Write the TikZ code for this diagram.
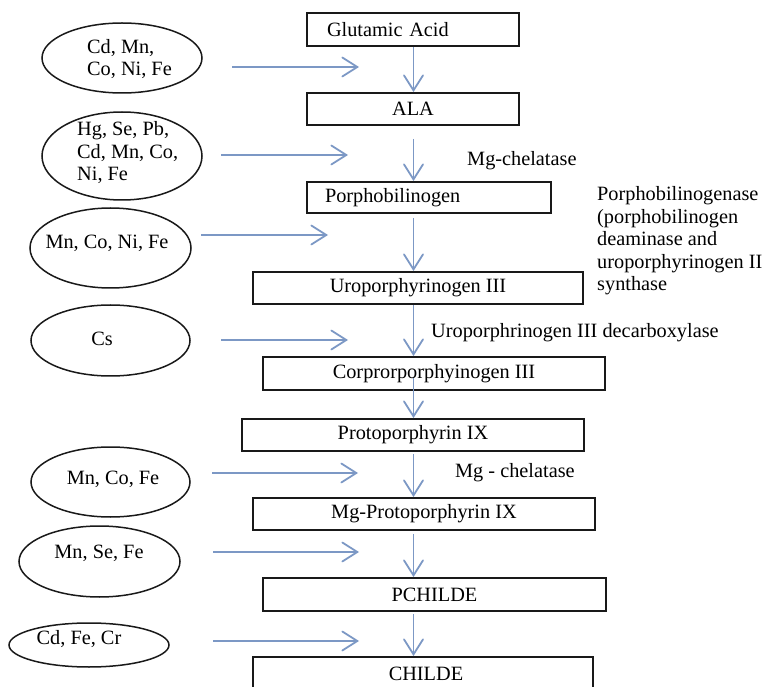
\documentclass[tikz,border=0pt]{standalone}
\usepackage{fontspec}
\setmainfont{Liberation Serif}
\usetikzlibrary{arrows.meta,shapes.geometric}
\definecolor{flowblue}{RGB}{124,152,197}
\begin{document}
\begin{tikzpicture}[x=1pt,y=-1pt,
  every node/.style={font=\fontsize{20.3}{22.5}\selectfont},
  stage/.style={draw=black!90,line width=1.9pt,rectangle,inner sep=0pt},
  metal/.style={draw=black!90,line width=1.5pt,ellipse,inner sep=0pt},
  plain/.style={inner sep=0pt},
  flow/.style={draw=flowblue,line width=1.8pt,-{Straight Barb[length=15pt,width=19pt,line cap=round]}}
]
\useasboundingbox (0,0) rectangle (764,687);
\clip (0,0) rectangle (764,687);

% pathway stages
\node[stage,minimum width=212pt,minimum height=33pt,text width=172pt,inner xsep=20pt,align=left] (glu) at (413,29.5) {Glutamic Acid};
\node[stage,minimum width=212pt,minimum height=32pt] (ala) at (413,109) {ALA};
\node[stage,minimum width=244pt,minimum height=31pt,text width=208pt,inner xsep=18pt,align=left] (por) at (429,197.5) {Porphobilinogen};
\node[stage,minimum width=330pt,minimum height=32pt] (uro) at (418,288) {Uroporphyrinogen III};
\node[stage,minimum width=342pt,minimum height=33pt] (cor) at (434,373.5) {Corprorporphyinogen III};
\node[stage,minimum width=342pt,minimum height=32pt] (pro) at (413,435) {Protoporphyrin IX};
\node[stage,minimum width=342pt,minimum height=32pt] (mgp) at (424,514) {Mg-Protoporphyrin IX};
\node[stage,minimum width=343pt,minimum height=33pt] (pch) at (434.5,594.5) {PCHILDE};
\node[stage,minimum width=340pt,minimum height=34pt] (chi) at (423,674) {\hspace*{6pt}CHILDE};

% metal ellipses
\node[metal,minimum width=160pt,minimum height=70pt] (e1) at (122,58) {};
\node[metal,minimum width=160pt,minimum height=88pt] (e2) at (122,156) {};
\node[metal,minimum width=161pt,minimum height=80pt] (e3) at (110.5,248) {};
\node[metal,minimum width=159pt,minimum height=71pt] (e4) at (110.5,340.5) {};
\node[metal,minimum width=159pt,minimum height=70pt] (e5) at (110.5,482) {};
\node[metal,minimum width=161pt,minimum height=71pt] (e6) at (99.5,561.5) {};
\node[metal,minimum width=160pt,minimum height=44pt] (e7) at (89,645) {};

\node[plain,align=left,anchor=west] (t1) at (87,59) {Cd, Mn,\\Co, Ni, Fe};
\node[plain,align=left,anchor=west] (t2) at (77,153) {Hg, Se, Pb,\\Cd, Mn, Co,\\Ni, Fe};
\node[plain] (t3) at (107,243) {Mn, Co, Ni, Fe};
\node[plain] (t4) at (102,339) {Cs};
\node[plain] (t5) at (113,479) {Mn, Co, Fe};
\node[plain] (t6) at (99,553) {Mn, Se, Fe};
\node[plain] (t7) at (79,639) {Cd, Fe, Cr};

% enzyme labels
\node[plain,anchor=west] (l1) at (467,161) {Mg-chelatase};
\node[plain,anchor=west,align=left] (l2) at (597,241) {Porphobilinogenase\\(porphobilinogen\\deaminase and\\uroporphyrinogen II\\synthase};
\node[plain,anchor=west] (l3) at (431,333) {Uroporphrinogen III decarboxylase};
\node[plain,anchor=west] (l4) at (455,473) {Mg - chelatase};

% inhibitor arrows: start and end points
\coordinate (a1) at (232,67);  \coordinate (b1) at (359,67);
\coordinate (a2) at (221,155); \coordinate (b2) at (348,155);
\coordinate (a3) at (201,235); \coordinate (b3) at (328,235);
\coordinate (a4) at (221,340); \coordinate (b4) at (348,340);
\coordinate (a5) at (212,473); \coordinate (b5) at (358,473);
\coordinate (a6) at (213,552); \coordinate (b6) at (359,552);
\coordinate (a7) at (213,641); \coordinate (b7) at (359,641);
\foreach \i in {1,...,7} {\draw[flow] (a\i) -- (b\i);}

% main pathway arrows
\coordinate (ax) at (413.5,0);
\draw[flow] (glu.south -| ax) -- (ala.north -| ax);
\draw[flow,shorten <=13pt] (ala.south -| ax) -- (por.north -| ax);
\draw[flow,shorten <=4pt] (por.south -| ax) -- (uro.north -| ax);
\draw[flow] (uro.south -| ax) -- (cor.north -| ax);
\draw[flow,shorten <=-13pt] (cor.south -| ax) -- (pro.north -| ax);
\draw[flow,shorten <=2pt] (pro.south -| ax) -- (mgp.north -| ax);
\draw[flow,shorten <=3pt] (mgp.south -| ax) -- (pch.north -| ax);
\draw[flow,shorten <=2pt] (pch.south -| ax) -- (chi.north -| ax);
\end{tikzpicture}
\end{document}
